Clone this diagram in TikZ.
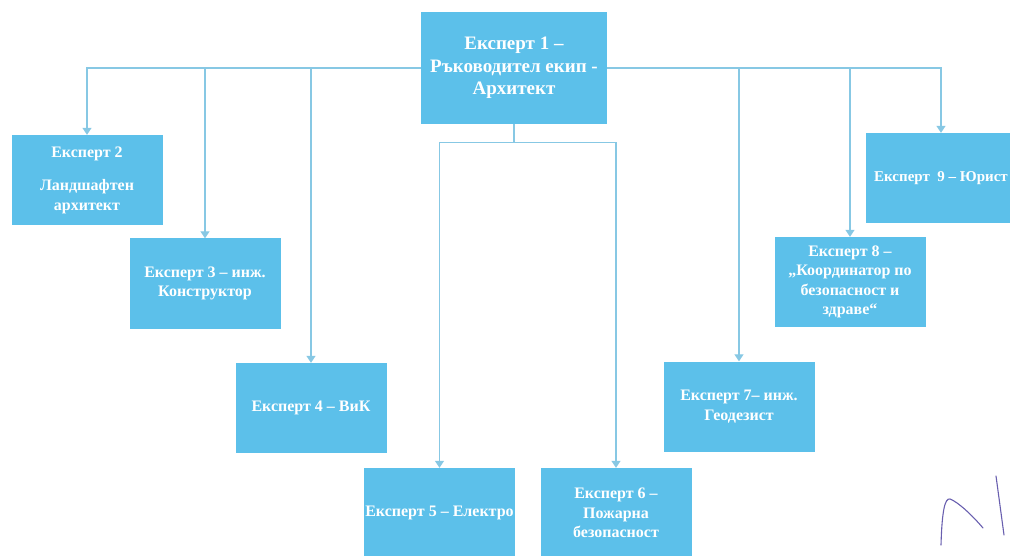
\documentclass[tikz,border=0pt]{standalone}
\usepackage{fontspec}
\setmainfont{Liberation Serif}
\usetikzlibrary{arrows.meta,positioning}
\definecolor{boxblue}{RGB}{92,192,234}
\definecolor{linkblue}{RGB}{135,200,228}
\definecolor{inkviolet}{RGB}{105,95,175}
\tikzset{post/.style={fill=boxblue, draw=none, minimum width=151pt, minimum height=90pt,
             align=center, text=white, font=\bfseries\fontsize{16}{19.5}\selectfont, inner sep=1pt},
         link/.style={draw=linkblue, line width=1.2pt},
         down/.style={link, -{Triangle[width=9pt,length=7pt]}},
         sign/.style={draw=inkviolet, line width=1.1pt, line cap=round}}

\begin{document}
\begin{tikzpicture}[x=1pt,y=-1pt]
          \useasboundingbox (0,0) rectangle (1010,556);
          \clip (0,0) rectangle (1010,556);
          \node[post, minimum width=186pt, minimum height=112pt,
                font=\bfseries\fontsize{19}{22.5}\selectfont] (boss) at (514,68)
                {Експерт 1 --\\Ръководител екип -\\Архитект};
          \node[post] (e2) at (87,180)    {Експерт 2\\[14pt]Ландшафтен\\архитект};
          \node[post] (e3) at (205,283.5) {Експерт 3 -- инж.\\Конструктор};
          \node[post] (e4) at (311,408)   {Експерт 4 -- ВиК};
          \node[post] (e5) at (439.5,513) {Експерт 5 -- Електро};
          \node[post] (e6) at (616,513)   {Експерт 6 --\\Пожарна\\безопасност};
          \node[post] (e7) at (739,406.5) {Експерт 7-- инж.\\Геодезист};
          \node[post] (e8) at (850,282)   {Експерт 8 --\\„Координатор по\\безопасност и\\здраве“};
          \node[post, font=\bfseries\fontsize{15}{19.5}\selectfont] (e9) at (941,178)
                {Експерт~~9 -- Юрист};
          \coordinate (hub) at ([yshift=-18pt]boss.south);
          % links from the head of the team
          \draw[down] (boss.west) -| (e2);
          \draw[down] (boss.west) -| (e3);
          \draw[down] (boss.west) -| (e4);
          \draw[down] (boss.east) -| (e7);
          \draw[down] (boss.east) -| (e8);
          \draw[down] (boss.east) -| (e9);
          \draw[link] (boss) -- (hub);
          \draw[down] (hub) -| (e5);
          \draw[down] (hub) -| (e6);
          % initials in ink
          \draw[sign] (941,545) .. controls (942,510) and (945,498) .. (950,499)
                      .. controls (958,502) and (972,515) .. (983,528);
          \draw[sign] (996,476) -- (1004,535);
        \end{tikzpicture}
\end{document}
